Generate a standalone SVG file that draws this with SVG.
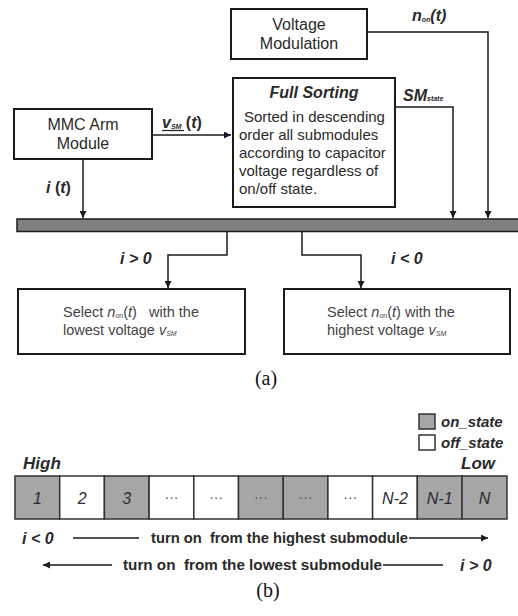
<svg xmlns="http://www.w3.org/2000/svg" width="518" height="616" viewBox="0 0 518 616" xml:space="preserve">
<style>
text{font-family:"Liberation Sans",Arial,sans-serif;fill:#2a2a2a;white-space:pre}
.box{fill:#fff;stroke:#1a1a1a;stroke-width:2}
.c{text-anchor:middle}
.t16{font-size:16px}
.t15{font-size:15px}
.t14{font-size:14.5px;fill:#444}
.bi{font-weight:bold;font-style:italic}
.b{font-weight:bold}
.i{font-style:italic}
.sub{font-size:7px}
.ln{fill:none;stroke:#1a1a1a;stroke-width:1.5}
.on{fill:#a6a6a6;stroke:#333;stroke-width:1.5}
.off{fill:#fff;stroke:#333;stroke-width:1.5}
.dots{font-size:14px;fill:#555;text-anchor:middle}
.cap{font-family:"Liberation Serif","Times New Roman",serif;font-size:20px;fill:#111}
</style>
<defs>
<marker id="ah" viewBox="0 0 10 10" refX="10" refY="5" markerWidth="8" markerHeight="7" markerUnits="userSpaceOnUse" orient="auto">
<path d="M0,0 L10,5 L0,10 z" fill="#1a1a1a"/>
</marker>
</defs>
<rect width="518" height="616" fill="#fff"/>

<g id="connectors">
<path class="ln" d="M367,32 H488 V218" marker-end="url(#ah)"/>
<path class="ln" d="M395,107 H453 V218" marker-end="url(#ah)"/>
<path class="ln" d="M152,135 H231" marker-end="url(#ah)"/>
<path class="ln" d="M83,159 V218" marker-end="url(#ah)"/>
<path class="ln" d="M227,232 V255 H168 V288" marker-end="url(#ah)"/>
<path class="ln" d="M302,232 V255 H361 V288" marker-end="url(#ah)"/>
<text x="412" y="21" class="bi t16">n<tspan class="sub" dy="1">on</tspan><tspan dy="-1">(t)</tspan></text>
<text x="403" y="101" class="bi t16">SM<tspan class="sub">state</tspan></text>
<text x="162" y="128" class="bi t16">v<tspan class="sub" dy="1">SM</tspan><tspan dy="-1" class="b" style="font-style:normal"> (</tspan>t<tspan class="b" style="font-style:normal">)</tspan></text>
<line x1="162" y1="130.5" x2="184" y2="130.5" stroke="#2a2a2a" stroke-width="1.3"/>
<text x="46" y="193" class="bi t16">i<tspan class="b" style="font-style:normal"> (</tspan>t<tspan class="b" style="font-style:normal">)</tspan></text>
<text x="120" y="264" class="bi t16">i &gt; 0</text>
<text x="391" y="264" class="bi t16">i &lt; 0</text>
</g>

<g id="voltage-modulation">
<rect class="box" x="231" y="9" width="136" height="50"/>
<text x="299" y="30" class="c t16">Voltage</text>
<text x="299" y="49" class="c t16">Modulation</text>
</g>

<g id="full-sorting">
<rect class="box" x="233" y="78" width="162" height="129"/>
<text x="314" y="98" class="c t16 bi">Full Sorting</text>
<text x="244" y="122" class="t15">Sorted in descending</text>
<text x="239" y="140" class="t15">order all submodules</text>
<text x="239" y="158" class="t15">according to capacitor</text>
<text x="239" y="176" class="t15">voltage regardless of</text>
<text x="239" y="194" class="t15">on/off state.</text>
</g>

<g id="mmc-arm">
<rect class="box" x="14" y="109" width="138" height="50"/>
<text x="83" y="130" class="c t16">MMC Arm</text>
<text x="83" y="149" class="c t16">Module</text>
</g>

<g id="bus">
<rect x="17" y="219" width="502" height="12.5" fill="#808080" stroke="#1a1a1a" stroke-width="1.5"/>
</g>

<g id="select-lowest">
<rect class="box" x="18" y="289" width="227" height="65"/>
<text x="63" y="317" class="t14">Select <tspan class="i">n</tspan><tspan class="sub" dy="1">on</tspan><tspan dy="-1">(</tspan><tspan class="i">t</tspan>)   with the</text>
<text x="63" y="335" class="t14">lowest voltage <tspan class="i">v</tspan><tspan class="sub i" dy="1">SM</tspan></text>
</g>

<g id="select-highest">
<rect class="box" x="284" y="289" width="226" height="65"/>
<text x="327" y="317" class="t14">Select <tspan class="i">n</tspan><tspan class="sub" dy="1">on</tspan><tspan dy="-1">(</tspan><tspan class="i">t</tspan>) with the</text>
<text x="327" y="335" class="t14">highest voltage <tspan class="i">v</tspan><tspan class="sub i" dy="1">SM</tspan></text>
</g>

<text x="266" y="385" class="cap c">(a)</text>

<g id="legend">
<rect class="on" x="419" y="414" width="16" height="15"/>
<rect class="off" x="419" y="435" width="16" height="15"/>
<text x="441" y="427" class="bi t15">on_state</text>
<text x="441" y="448" class="bi t15">off_state</text>
</g>

<g id="submodule-row">
<text x="23" y="469" class="bi" style="font-size:17px">High</text>
<text x="495" y="469" class="bi" style="font-size:17px;text-anchor:end">Low</text>
<rect class="on" x="15" y="476" width="44.7" height="43"/>
<rect class="off" x="59.7" y="476" width="44.7" height="43"/>
<rect class="on" x="104.4" y="476" width="44.7" height="43"/>
<rect class="off" x="149.1" y="476" width="44.7" height="43"/>
<rect class="off" x="193.8" y="476" width="44.7" height="43"/>
<rect class="on" x="238.5" y="476" width="44.7" height="43"/>
<rect class="on" x="283.2" y="476" width="44.7" height="43"/>
<rect class="off" x="327.9" y="476" width="44.7" height="43"/>
<rect class="off" x="372.6" y="476" width="44.7" height="43"/>
<rect class="on" x="417.3" y="476" width="44.7" height="43"/>
<rect class="on" x="462" y="476" width="45" height="43"/>
<text x="37.4" y="504" class="i t16 c">1</text>
<text x="82.1" y="504" class="i t16 c">2</text>
<text x="126.8" y="504" class="i t16 c">3</text>
<text x="171.5" y="502" class="dots">···</text>
<text x="216.2" y="502" class="dots">···</text>
<text x="260.9" y="502" class="dots">···</text>
<text x="305.6" y="502" class="dots">···</text>
<text x="350.3" y="502" class="dots">···</text>
<text x="395" y="504" class="i t16 c">N-2</text>
<text x="439.7" y="504" class="i t16 c">N-1</text>
<text x="484.5" y="504" class="i t16 c">N</text>
</g>

<g id="direction-arrows">
<text x="22" y="544" class="bi t16">i &lt; 0</text>
<line class="ln" x1="73" y1="538" x2="139" y2="538"/>
<text x="151" y="543" class="b t15" textLength="257" lengthAdjust="spacingAndGlyphs">turn on  from the highest submodule</text>
<line class="ln" x1="409" y1="538" x2="488" y2="538" marker-end="url(#ah)"/>
<line class="ln" x1="112" y1="565" x2="43" y2="565" marker-end="url(#ah)"/>
<text x="123" y="570" class="b t15" textLength="259" lengthAdjust="spacingAndGlyphs">turn on  from the lowest submodule</text>
<line class="ln" x1="383" y1="565" x2="443" y2="565"/>
<text x="460" y="571" class="bi t16">i &gt; 0</text>
</g>

<text x="268" y="597" class="cap c">(b)</text>
</svg>
